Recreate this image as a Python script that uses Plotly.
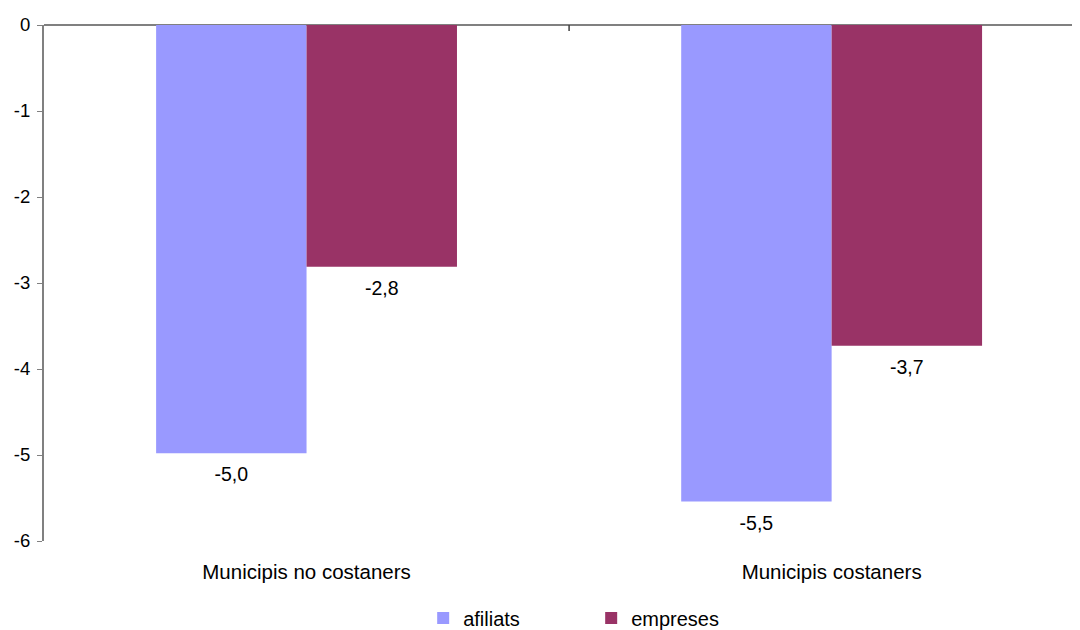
import plotly.graph_objects as go

categories = ["Municipis no costaners", "Municipis costaners"]
afiliats = [-4.98, -5.54]
empreses = [-2.81, -3.73]
series_names = ["afiliats", "empreses"]
colors = ["#9999FF", "#993366"]
y_tickvals = [0, -1, -2, -3, -4, -5, -6]
y_ticktext = ["0", "-1", "-2", "-3", "-4", "-5", "-6"]

FONT = "Liberation Sans, Arial, sans-serif"

fig = go.Figure()
for name, vals, col in zip(series_names, [afiliats, empreses], colors):
    fig.add_trace(go.Bar(
        x=categories, y=vals, name=name, marker=dict(color=col, line=dict(width=0)),
        offsetgroup=name,
    ))
# value labels below each bar, aligned with the grouped bars
for name, vals in zip(series_names, [afiliats, empreses]):
    fig.add_trace(go.Scatter(
        x=categories, y=vals, mode="markers+text", texttemplate="%{y:.1f}",
        textposition="bottom center", offsetgroup=name,
        marker=dict(size=20, opacity=0, color="white"),
        textfont=dict(family=FONT, size=19.5, color="#000000"),
        showlegend=False, hoverinfo="skip", cliponaxis=False,
    ))

# small tick mark on the top axis line between the two categories
fig.add_shape(type="line", xref="x", yref="y", x0=0.5, x1=0.5,
              ysizemode="pixel", yanchor=0, y0=0, y1=-6,
              line=dict(color="#404040", width=1.5))

xr = [-0.5, 1.473]
fig.update_layout(
    width=1072, height=622,
    paper_bgcolor="white", plot_bgcolor="white",
    margin=dict(l=36, r=0, t=17, b=89, autoexpand=False),
    barmode="group", bargap=0.427, bargroupgap=0,
    scattermode="group", scattergap=0.427,
    separators=",.",
    font=dict(family=FONT, size=20, color="#000000"),
    showlegend=True,
    legend=dict(orientation="h", x=0.366, xanchor="left", y=-0.149, yanchor="middle",
                xref="paper", font=dict(family=FONT, size=20),
                entrywidth=123, entrywidthmode="pixels", itemwidth=30,
                traceorder="normal"),
    xaxis=dict(type="category", range=xr, showline=False, ticks="", showgrid=False,
               zeroline=False, tickfont=dict(family=FONT, size=20.5), ticklabelstandoff=16,
               automargin=False),
    yaxis=dict(range=[-6, 0], tickvals=y_tickvals, ticktext=y_ticktext,
               showline=True, linecolor="#808080", linewidth=2,
               ticks="outside", ticklen=5, tickcolor="#808080", tickwidth=1,
               showgrid=False, zeroline=True, zerolinecolor="#808080", zerolinewidth=1.5,
               tickfont=dict(family=FONT, size=18.5), ticklabelstandoff=3,
               automargin=False),
)

fig.write_html("out.html")
